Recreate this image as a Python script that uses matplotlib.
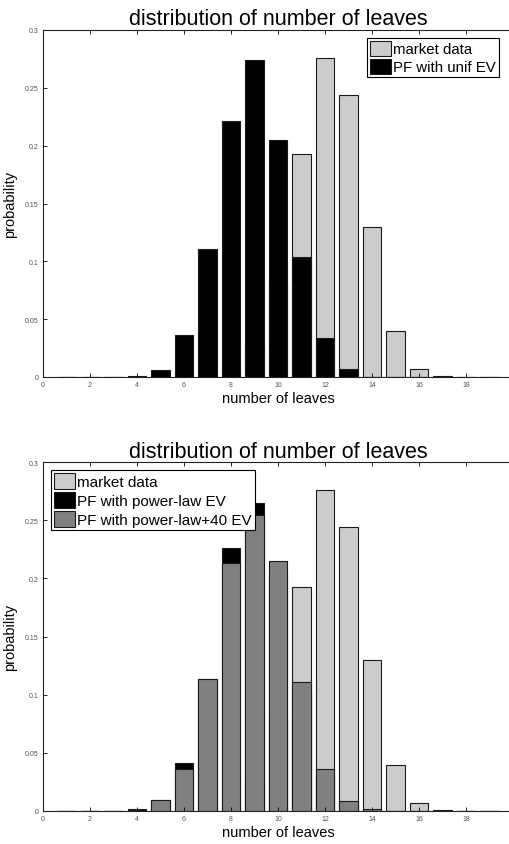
import numpy as np
import matplotlib
matplotlib.use('Agg')
import matplotlib.pyplot as plt

plt.rcParams['font.family'] = ['Liberation Sans', 'DejaVu Sans']

# number of leaves 1..19
leaves = np.arange(1, 20)

market = [0, 0, 0, 0, 0, 0, 0.0, 0.005, 0.025, 0.08, 0.193, 0.276, 0.244,
          0.130, 0.0397, 0.0069, 0.0005, 0, 0]
pf_unif = [0, 0.0003, 0.0003, 0.0008, 0.0063, 0.0365, 0.111, 0.221, 0.274,
           0.205, 0.104, 0.034, 0.0069, 0.0003, 0, 0.0001, 0.0003, 0, 0]
pf_pow = [0, 0, 0, 0.0014, 0.009, 0.0408, 0.113, 0.2266, 0.265, 0.205,
          0.102, 0.030, 0.006, 0.001, 0, 0, 0, 0, 0]
pf_pow40 = [0, 0, 0, 0.0008, 0.0092, 0.0357, 0.113, 0.2137, 0.2545, 0.2148,
            0.111, 0.0362, 0.0083, 0.0014, 0, 0, 0, 0, 0]

LIGHT = '#cccccc'
MID = '#808080'
EDGE = '#1a1a1a'


def style_axes(ax):
    ax.set_xlim(0, 20)
    ax.set_ylim(0, 0.3)
    ax.set_xticks(np.arange(0, 21, 2))
    ax.set_yticks([0, 0.05, 0.1, 0.15, 0.2, 0.25, 0.3])
    ax.set_yticklabels(['0', '0.05', '0.1', '0.15', '0.2', '0.25', '0.3'])
    ax.tick_params(direction='in', top=True, right=True, labelsize=5,
                   labelcolor='#555555', length=3, width=0.6, pad=3)
    for s in ax.spines.values():
        s.set_linewidth(0.8)
        s.set_color('#222222')
    ax.set_xlabel('number of leaves', fontsize=10.5, labelpad=2)
    ax.set_ylabel('probability', fontsize=10.5, labelpad=6)
    ax.set_title('distribution of number of leaves', fontsize=15.5, pad=4)


fig = plt.figure(figsize=(5.1, 8.45), dpi=100)

ax1 = fig.add_axes([43 / 510, 1 - 378 / 845, 470 / 510, 347 / 845])
ax1.bar(leaves, market, width=0.8, color=LIGHT, edgecolor=EDGE, linewidth=0.8,
        label='market data')
ax1.bar(leaves, pf_unif, width=0.8, color='black', edgecolor=EDGE, linewidth=0.8,
        label='PF with unif EV')
style_axes(ax1)
leg = ax1.legend(loc='upper right', fontsize=10.8, fancybox=False, framealpha=1,
                 edgecolor='black', borderpad=0.2, handlelength=1.4,
                 handleheight=1.2, handletextpad=0.15, labelspacing=0.15,
                 borderaxespad=0.5, bbox_to_anchor=(506 / 513, 1))
leg.get_frame().set_linewidth(0.8)

ax2 = fig.add_axes([43 / 510, 1 - 811.7 / 845, 470 / 510, 348.4 / 845])
ax2.bar(leaves, market, width=0.8, color=LIGHT, edgecolor=EDGE, linewidth=0.8,
        label='market data')
ax2.bar(leaves, pf_pow, width=0.8, color='black', edgecolor=EDGE, linewidth=0.8,
        label='PF with power-law EV')
ax2.bar(leaves, pf_pow40, width=0.8, color=MID, edgecolor=EDGE, linewidth=0.8,
        label='PF with power-law+40 EV')
style_axes(ax2)
leg = ax2.legend(loc='upper left', fontsize=11, fancybox=False, framealpha=1,
                 edgecolor='black', borderpad=0.2, handlelength=1.4,
                 handleheight=1.2, handletextpad=0.15, labelspacing=0.2,
                 borderaxespad=0.5)
leg.get_frame().set_linewidth(0.8)

fig.savefig('out.png', dpi=100)
